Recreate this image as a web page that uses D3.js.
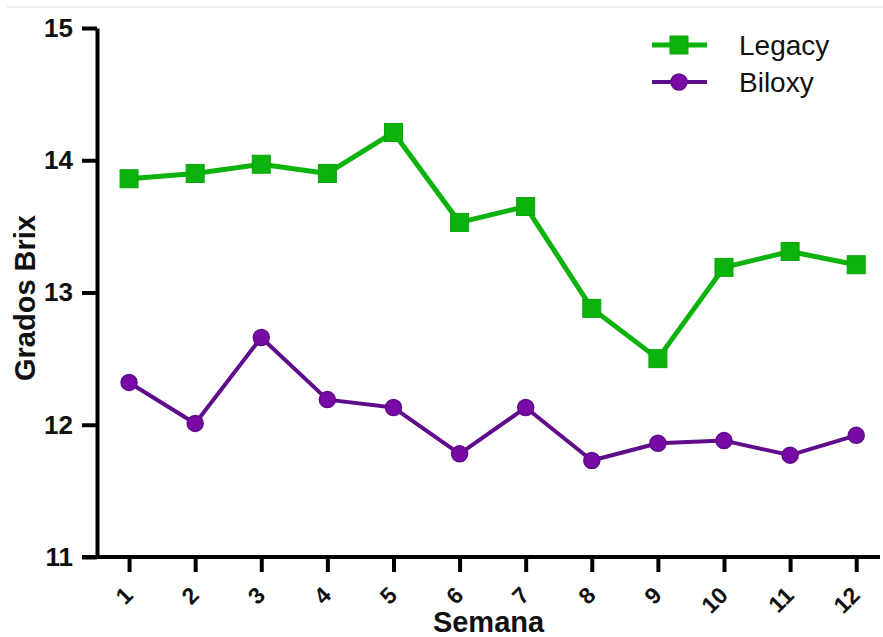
<!DOCTYPE html>
<html>
<head>
<meta charset="utf-8">
<script src="https://cdn.jsdelivr.net/npm/d3@7"></script>
<style>
  html, body { margin: 0; padding: 0; background: #ffffff; }
  svg { display: block; font-family: "Liberation Sans", Arial, Helvetica, sans-serif; }
</style>
</head>
<body>
<svg id="chart" width="883" height="637"></svg>
<script>
// Weekly Brix readings for two varieties
const semanas = [1, 2, 3, 4, 5, 6, 7, 8, 9, 10, 11, 12];
const legacy = [13.86, 13.90, 13.97, 13.90, 14.21, 13.53, 13.65, 12.88, 12.50, 13.19, 13.31, 13.21];
const biloxy = [12.32, 12.01, 12.66, 12.19, 12.13, 11.78, 12.13, 11.73, 11.86, 11.88, 11.77, 11.92];
const yTicks = [11, 12, 13, 14, 15];

const series = [
  { name: "Legacy", values: legacy, line: "#0cb30c", fill: "#0cb30c", stroke: "#0aa30a", width: 5, shape: "square" },
  { name: "Biloxy", values: biloxy, line: "#5e0c8c", fill: "#7a0aa6", stroke: "#5e0c8c", width: 4, shape: "circle" }
];

const svg = d3.select("#chart");

const x = d3.scaleLinear().domain([0.515, 12.36]).range([97, 880]);
const y = d3.scaleLinear().domain([11, 15]).range([557, 28]);

// light frame line along the top
svg.append("line")
  .attr("x1", 7).attr("x2", 883).attr("y1", 7).attr("y2", 7)
  .attr("stroke", "#e6e6e6").attr("stroke-width", 1.5);

// Y axis
const yAxis = svg.append("g")
  .attr("transform", `translate(${x.range()[0]},0)`)
  .call(d3.axisLeft(y).tickValues(yTicks).tickFormat(d3.format("d"))
    .tickSize(15).tickSizeOuter(0).tickPadding(9));
yAxis.attr("font-size", null).attr("font-family", null);
yAxis.select(".domain").attr("stroke", "#000").attr("stroke-width", 4);
yAxis.selectAll(".tick line").attr("stroke", "#000").attr("stroke-width", 4);
yAxis.selectAll(".tick text")
  .style("font-size", "26px").style("font-weight", "bold").attr("fill", "#111");

// X axis
const xAxis = svg.append("g")
  .attr("transform", `translate(0,${y(11)})`)
  .call(d3.axisBottom(x).tickValues(semanas).tickFormat(d3.format("d"))
    .tickSize(15).tickSizeOuter(0));
xAxis.attr("font-size", null).attr("font-family", null);
xAxis.select(".domain").remove();
xAxis.selectAll(".tick line").attr("stroke", "#000").attr("stroke-width", 4);
xAxis.selectAll(".tick text")
  .style("font-size", "23px").style("font-weight", "bold").attr("fill", "#111")
  .attr("text-anchor", "end")
  .attr("x", -1).attr("y", 34).attr("dy", "0.35em")
  .attr("transform", "rotate(-45,-1,34)");
svg.append("line")
  .attr("x1", x.range()[0] - 15).attr("x2", x.range()[1])
  .attr("y1", y(11)).attr("y2", y(11))
  .attr("stroke", "#000").attr("stroke-width", 4);

// Axis titles
svg.append("text")
  .attr("x", (x.range()[0] + x.range()[1]) / 2).attr("y", 632)
  .attr("text-anchor", "middle")
  .style("font-size", "29px").style("font-weight", "bold").attr("fill", "#111")
  .text("Semana");
svg.append("text")
  .attr("transform", "translate(35,298) rotate(-90)")
  .attr("text-anchor", "middle")
  .style("font-size", "29px").style("font-weight", "bold").attr("fill", "#111")
  .text("Grados Brix");

// Series lines and markers
const line = d3.line().x((d, i) => x(semanas[i])).y(d => y(d));

function marker(g, s, cx, cy) {
  if (s.shape === "square") {
    g.append("rect")
      .attr("x", cx - 9).attr("y", cy - 9).attr("width", 18).attr("height", 18)
      .attr("fill", s.fill).attr("stroke", s.stroke).attr("stroke-width", 1);
  } else {
    g.append("circle")
      .attr("cx", cx).attr("cy", cy).attr("r", 8)
      .attr("fill", s.fill).attr("stroke", s.stroke).attr("stroke-width", 1.5);
  }
}

series.forEach(s => {
  const g = svg.append("g");
  g.append("path")
    .datum(s.values)
    .attr("d", line)
    .attr("fill", "none")
    .attr("stroke", s.line)
    .attr("stroke-width", s.width)
    .attr("stroke-linejoin", "round");
  s.values.forEach((v, i) => marker(g, s, x(semanas[i]), y(v)));
});

// Legend
const legend = svg.append("g");
series.forEach((s, i) => {
  const ly = 45 + i * 37;
  legend.append("line")
    .attr("x1", 652).attr("x2", 707).attr("y1", ly).attr("y2", ly)
    .attr("stroke", s.line).attr("stroke-width", s.width);
  marker(legend, s, 679, ly);
  legend.append("text")
    .attr("x", 739).attr("y", ly + 10)
    .style("font-size", "28px").attr("fill", "#111")
    .text(s.name);
});
</script>
</body>
</html>
